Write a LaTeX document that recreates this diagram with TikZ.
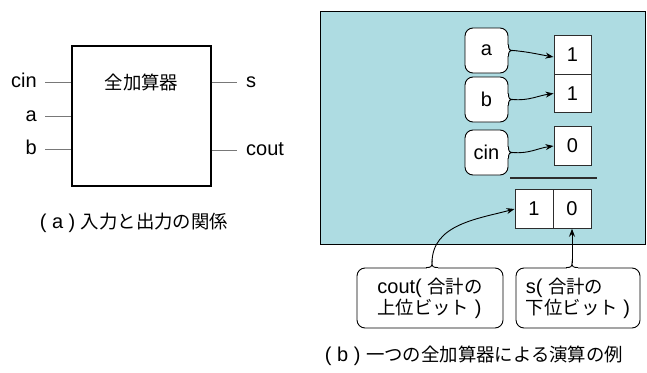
\documentclass[tikz,border=0pt]{standalone}
\usepackage{fontspec}
\setmainfont{Liberation Sans}
\newfontfamily\jp{Noto Sans CJK JP}[Scale=0.92]
\usetikzlibrary{arrows.meta,calc}
\definecolor{panelcol}{RGB}{174,220,226}
\definecolor{wirecol}{RGB}{120,120,120}
\definecolor{boxcol}{RGB}{45,45,45}
\newcommand\rnotch[1]{%
  \fill[white] ($(#1.east)+(-1.2,-5.5)$) rectangle ($(#1.east)+(0.8,5.5)$);
  \draw[line width=0.9pt] ($(#1.east)+(0,6)$) .. controls ($(#1.east)+(0,1)$) and ($(#1.east)+(1,0)$) .. ($(#1.east)+(4.5,0)$) .. controls ($(#1.east)+(1,0)$) and ($(#1.east)+(0,-1)$) .. ($(#1.east)+(0,-6)$);
  \coordinate (#1tip) at ($(#1.east)+(4.5,0)$);}
\newcommand\tnotch[2]{%
  \coordinate (#1b) at (#1.north -| #2);
  \fill[white] ($(#1b)+(-5.5,-1.2)$) rectangle ($(#1b)+(5.5,0.8)$);
  \draw[line width=0.9pt] ($(#1b)+(-6,0)$) .. controls ($(#1b)+(-1,0)$) and ($(#1b)+(0,1)$) .. ($(#1b)+(0,4.5)$) .. controls ($(#1b)+(0,1)$) and ($(#1b)+(1,0)$) .. ($(#1b)+(6,0)$);
  \coordinate (#1tip) at ($(#1b)+(0,4.5)$);}
\begin{document}
\begin{tikzpicture}[x=1pt,y=1pt,
  every node/.style={font=\fontsize{20}{21}\selectfont, inner sep=0pt},
  iolabel/.style={text height=10.4pt, text depth=0pt},
  valbox/.style={draw=boxcol, fill=white, line width=1pt, minimum width=37pt, minimum height=38.5pt},
  callout/.style={draw=black, fill=white, line width=0.9pt, rounded corners=8pt},
  wireline/.style={draw=wirecol, line width=1pt},
  arr/.style={-{Stealth[length=8pt,width=6pt]}, line width=0.9pt}]
\useasboundingbox (0,0) rectangle (647,-372);

% ---------- (a) ----------
\node[draw, fill=white, line width=1.3pt, minimum width=139pt, minimum height=140pt] (fa) at (141.5,-116) {};
\node (title) at (141.5,-82) {\jp 全加算器};
\node[iolabel, anchor=east] (lcin) at (37,-82) {cin};
\node[iolabel, anchor=east] (la) at (37,-116) {a};
\node[iolabel, anchor=east] (lb) at (37,-149) {b};
\node[iolabel, anchor=west] (ls) at (246,-82) {s};
\node[iolabel, anchor=west] (lcout) at (246,-150) {cout};
\draw[wireline] ([xshift=8pt]lcin.east) -- (lcin.east -| fa.west);
\draw[wireline] ([xshift=8pt]la.east) -- (la.east -| fa.west);
\draw[wireline] ([xshift=8pt]lb.east) -- (lb.east -| fa.west);
\draw[wireline] (ls.west -| fa.east) -- ([xshift=-9pt]ls.west);
\draw[wireline] (lcout.west -| fa.east) -- ([xshift=-9pt]lcout.west);
\node (capa) at (134,-223) {( a ) {\jp 入力と出力の関係}};

% ---------- (b) ----------
\node[draw=black, fill=panelcol, line width=1pt, minimum width=325pt, minimum height=233pt] (panel) at (482.5,-127.5) {};
\node[valbox] (A1) at (572.5,-55) {1};
\node[valbox] (B1) at (572.5,-93.5) {1};
\node[valbox] (C0) at (572.5,-146) {0};
\draw[line width=2.5pt, boxcol] (510,-178) -- (597,-178);
\node[valbox, minimum width=38pt] (r1) at (534,-209) {1};
\node[valbox, minimum width=38pt] (r0) at (572,-209) {0};

\node[callout, minimum width=43pt, minimum height=45pt] (ca) at (486.5,-50.5) {a};
\node[callout, minimum width=43pt, minimum height=45pt] (cb) at (486.5,-99.5) {b};
\node[callout, minimum width=43pt, minimum height=45pt] (cc) at (486.5,-152.5) {cin};
\rnotch{ca}\rnotch{cb}\rnotch{cc}
\draw[arr] (catip) to[out=-5,in=170] ($(A1.west)+(0,-2)$);
\draw[arr] (cbtip) to[out=-5,in=-172] (B1.west);
\draw[arr] (cctip) to[out=-5,in=-172] (C0.west);

\node[callout, minimum width=146pt, minimum height=60pt, align=left] (cco) at (430,-298) {cout( {\jp 合計の}\\{\jp 上位ビット} )};
\node[callout, minimum width=124pt, minimum height=60pt, align=left] (cs) at (578,-298) {s( {\jp 合計の}\\{\jp 下位ビット} )};
\coordinate (coutx) at (432,0);
\tnotch{cco}{coutx}
\tnotch{cs}{r0}
\draw[arr] (ccotip) to[out=90,in=195] (r1.west);
\draw[arr] (cstip) -- (r0.south);

\node (capb) at (474,-356) {( b ) {\jp 一つの全加算器による演算の例}};
\end{tikzpicture}
\end{document}
